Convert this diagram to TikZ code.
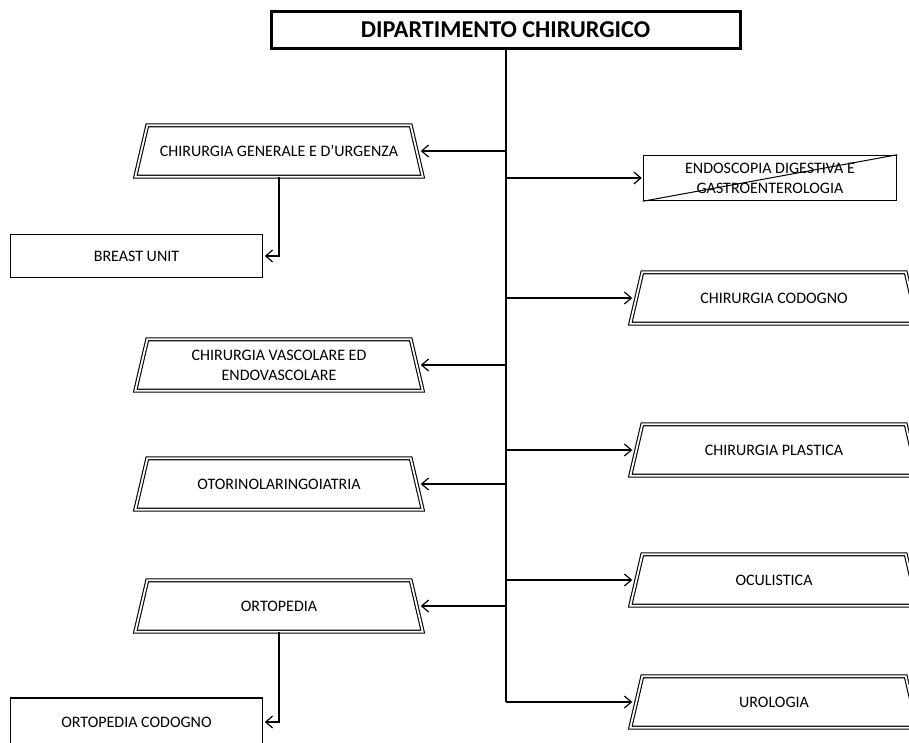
\documentclass[tikz,border=0pt]{standalone}
\usepackage{fontspec}
\setmainfont{Carlito}
\usetikzlibrary{arrows.meta,calc}

\tikzset{
  headbox/.style={draw, line width=3pt, minimum width=469pt, minimum height=37pt,
    inner sep=0pt, font=\fontsize{24.2}{28}\selectfont\bfseries},
  trapnode/.style={minimum width=275pt, minimum height=51pt, inner sep=0pt,
    align=center, font=\fontsize{16}{20}\selectfont},
  unitbox/.style={draw, line width=1.5pt, minimum width=252pt, minimum height=43pt,
    inner sep=0pt, align=center, font=\fontsize{16}{20}\selectfont},
  dbl/.style={draw, line width=1.1pt, double=white, double distance=1.8pt, line join=miter},
  trunk/.style={line width=2pt},
  arr/.style={line width=1.2pt, -{Straight Barb[length=7pt,width=12pt,line width=1.2pt]}},
}

% double-lined trapezoid drawn around a named text node
\newcommand\trapline[1]{%
  \draw[dbl] ($(#1.north west)+(6,0)$) -- ($(#1.south west)+(-6,0)$)
    -- ($(#1.south east)+(6,0)$) -- ($(#1.north east)+(-6,0)$) -- cycle;}

\begin{document}
\begin{tikzpicture}[x=1pt,y=-1pt]
  \clip (0,0) rectangle (909,742);

  % department head
  \node[headbox] (head) at (505.5,30) {DIPARTIMENTO CHIRURGICO};

  % left-hand units
  \node[trapnode] (gen)  at (279,151) {CHIRURGIA GENERALE E D’URGENZA};
  \node[trapnode] (vasc) at (279,365) {CHIRURGIA VASCOLARE ED\\ENDOVASCOLARE};
  \node[trapnode] (oto)  at (279,484) {OTORINOLARINGOIATRIA};
  \node[trapnode] (orto) at (279,606) {ORTOPEDIA};
  \foreach \n in {gen,vasc,oto,orto} {\trapline{\n}}

  \node[unitbox] (breast)  at (136.5,256) {BREAST UNIT};
  \node[unitbox, minimum height=48pt] (ortocod) at (136.5,722) {ORTOPEDIA CODOGNO};

  % right-hand units
  \node[unitbox, minimum width=253pt, minimum height=45pt] (endo) at (770,178)
    {ENDOSCOPIA DIGESTIVA E\\GASTROENTEROLOGIA};
  \draw[line width=1pt] (endo.south west) -- (endo.north east);

  \node[trapnode] (cod)   at (774,298) {CHIRURGIA CODOGNO};
  \node[trapnode] (plast) at (774,450) {CHIRURGIA PLASTICA};
  \node[trapnode] (ocul)  at (774,580) {OCULISTICA};
  \node[trapnode] (uro)   at (774,702) {UROLOGIA};
  \foreach \n in {cod,plast,ocul,uro} {\trapline{\n}}

  % main trunk
  \draw[trunk] (head.south) -- (head.south |- uro.west);

  % branches
  \foreach \n in {gen,vasc,oto,orto}
    \draw[arr, shorten >=4pt] (head.south |- \n.east) -- (\n.east);
  \foreach \n in {cod,plast,ocul,uro}
    \draw[arr, shorten >=4pt] (head.south |- \n.west) -- (\n.west);
  \draw[arr, shorten >=1pt] (head.south |- endo.west) -- (endo.west);

  % sub-units
  \draw[arr, shorten >=1.5pt] (gen.south) |- (breast.east);
  \draw[arr, shorten >=1.5pt] (orto.south) |- (ortocod.east);
\end{tikzpicture}
\end{document}
